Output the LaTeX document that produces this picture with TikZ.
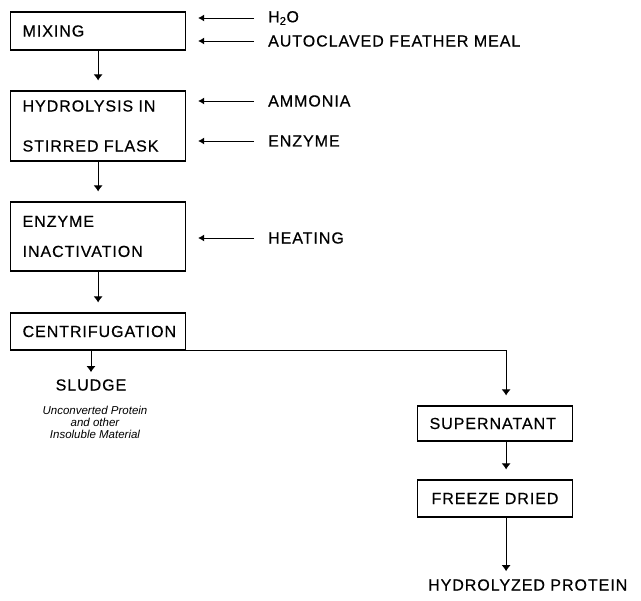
\documentclass[tikz,border=0pt]{standalone}
\usepackage{fontspec}
\setmainfont{Liberation Sans}
\newfontfamily\capsfont[LetterSpace=6,FakeBold=0.5]{Liberation Sans}
\usetikzlibrary{arrows.meta,calc}

\tikzset{
  stepbox/.style={draw, line width=1.2pt, anchor=west, inner xsep=12pt,
    inner ysep=0pt, align=left, font=\capsfont\fontsize{16}{18}\selectfont},
  feed/.style={anchor=west, inner sep=0pt, font=\capsfont\fontsize{16}{18}\selectfont},
  note/.style={inner sep=0pt, align=center, font=\itshape\fontsize{11.5}{12}\selectfont},
  flow/.style={line width=0.8pt, -{Latex[length=6pt,width=9pt]}, shorten >=10pt},
  feedarrow/.style={line width=0.8pt, -{Latex[length=6pt,width=7pt]},
    shorten <=14pt, shorten >=12pt},
}

\begin{document}
\begin{tikzpicture}[x=1pt, y=-1pt]
  \useasboundingbox (0,0) rectangle (641,601);

  % Process boxes
  \node[stepbox, minimum width=175pt, minimum height=38pt, text width=151pt]
    (mixing) at (10,31) {MIXING};
  \node[stepbox, minimum width=175pt, minimum height=70pt, text width=151pt]
    (hydro) at (10,126) {HYDROLYSIS IN\\[22pt]STIRRED FLASK};
  \node[stepbox, minimum width=175pt, minimum height=69pt, text width=151pt]
    (inact) at (10,236.5) {ENZYME\\[12pt]INACTIVATION};
  \node[stepbox, minimum width=175pt, minimum height=37pt, text width=151pt]
    (centr) at (10,331.5) {CENTRIFUGATION};
  \node[stepbox, minimum width=155pt, minimum height=35pt, text width=131pt]
    (super) at (417,423.5) {SUPERNATANT};
  \node[stepbox, minimum width=155pt, minimum height=37pt, text width=131pt, inner xsep=12pt]
    (freeze) at (417,498.5) {\hspace{2pt}FREEZE DRIED};

  % Feed streams
  \node[feed] (water) at (268,18) {H\textsubscript{2}O};
  \node[feed] (meal) at (268,41) {AUTOCLAVED FEATHER MEAL};
  \node[feed] (ammonia) at (268,101) {AMMONIA};
  \node[feed] (enzyme) at (268,141) {ENZYME};
  \node[feed] (heating) at (268,238) {HEATING};

  \draw[feedarrow] (water.west) -- (water.west -| mixing.east);
  \draw[feedarrow] (meal.west) -- (meal.west -| mixing.east);
  \draw[feedarrow] (ammonia.west) -- (ammonia.west -| hydro.east);
  \draw[feedarrow] (enzyme.west) -- (enzyme.west -| hydro.east);
  \draw[feedarrow] (heating.west) -- (heating.west -| inact.east);

  % Products
  \node[feed, anchor=center] (sludge) at (91,385) {SLUDGE};
  \node[note] (residue) at (95,422)
    {Unconverted Protein\\and other\\Insoluble Material};
  \node[feed] (product) at (428,585) {HYDROLYZED PROTEIN};

  % Main line
  \coordinate (drop) at ($(super.north)+(11,0)$);
  \draw[flow] (mixing.south) -- (hydro.north);
  \draw[flow] (hydro.south) -- (inact.north);
  \draw[flow] (inact.south) -- (centr.north);
  \draw[flow, shorten >=7pt] (sludge |- centr.south) -- (sludge.north);
  \draw[flow] (centr.south east) -| (drop);
  \draw[flow] (drop |- super.south) -- (drop |- freeze.north);
  \draw[flow, shorten >=8pt] (drop |- freeze.south) -- (drop |- product.north);
\end{tikzpicture}
\end{document}
